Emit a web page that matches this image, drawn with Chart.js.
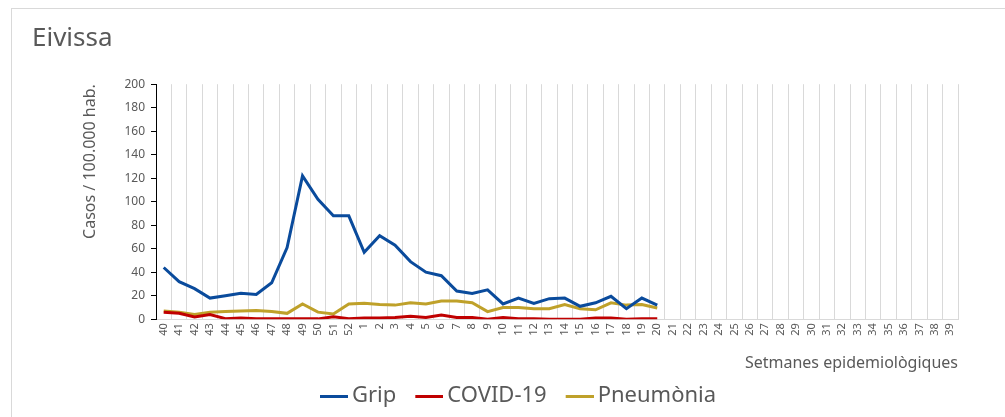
<!DOCTYPE html>
<html>
<head>
<meta charset="utf-8">
<script src="https://cdn.jsdelivr.net/npm/chart.js@4"></script>
<style>
  html, body { margin: 0; padding: 0; background: #fff; overflow: hidden; }
  #box { position: absolute; left: 11px; top: 8px; width: 995px; height: 420px; border: 1px solid #d9d9d9; }
</style>
</head>
<body>
<div id="box"><canvas id="chart" width="981" height="408"></canvas></div>
<script>
// Setmanes epidemiològiques (40 -> 52, 1 -> 39)
const weeks = ['40','41','42','43','44','45','46','47','48','49','50','51','52',
  '1','2','3','4','5','6','7','8','9','10','11','12','13','14','15','16','17','18','19','20',
  '21','22','23','24','25','26','27','28','29','30','31','32','33','34','35','36','37','38','39'];

// Casos / 100.000 hab. (weeks 40..20, rest not yet reported)
const grip = [44, 32, 26, 18, 20, 22, 21, 31, 61, 122, 102, 88, 88,
  57, 71, 63, 49, 40, 37, 24, 22, 25, 13, 18, 13.5, 17.5, 18, 11, 14, 19.5, 9, 18, 12];
const covid = [6, 5, 2, 4, 0.5, 1, 0.5, 0.3, 0.3, 0.5, 0.3, 2, 0.5,
  1, 1, 1.5, 2.5, 1.5, 3.5, 1.5, 1.5, 0, 1.5, 0.5, 0.5, 0, 0, 0, 1, 1, 0, 0.5, 0.5];
const pneumonia = [7, 6, 4, 6, 6.5, 7, 7.5, 6.5, 5, 13, 6, 4.5, 13,
  13.5, 12.5, 12, 14, 13, 15.5, 15.5, 14, 6.5, 10, 10, 9, 9, 12.5, 9, 8, 14, 12, 12.5, 9.5];

const yTicks = [0, 20, 40, 60, 80, 100, 120, 140, 160, 180, 200];

const grey = '#595959';
const font = '"Noto Sans", sans-serif';

// legend marker: short line, drawn in the right part of a wider image
// so that it sits close to its label
function legendLine(color) {
  const c = document.createElement('canvas');
  c.width = 46;
  c.height = 3;
  const g = c.getContext('2d');
  g.fillStyle = color;
  g.fillRect(18, 0, 28, 3);
  return c;
}

function series(label, data, color) {
  return {
    label: label,
    data: data,
    borderColor: color,
    backgroundColor: color,
    borderWidth: 3,
    pointRadius: 0,
    tension: 0,
    spanGaps: false
  };
}

new Chart(document.getElementById('chart').getContext('2d'), {
  type: 'line',
  data: {
    labels: weeks,
    datasets: [
      series('Grip', grip, '#0a4b9c'),
      series('COVID-19', covid, '#c00000'),
      series('Pneumònia', pneumonia, '#bfa12a')
    ]
  },
  options: {
    responsive: false,
    animation: false,
    layout: { padding: { left: 20, right: 0, top: 0, bottom: 0 } },
    plugins: {
      title: {
        display: true,
        text: 'Eivissa',
        align: 'start',
        color: grey,
        font: { family: font, size: 26, weight: 'normal' },
        padding: { top: 14, bottom: 30 }
      },
      legend: {
        position: 'bottom',
        labels: {
          color: grey,
          font: { family: font, size: 22 },
          usePointStyle: true,
          pointStyleWidth: 32,
          boxHeight: 22,
          padding: 8,
          generateLabels: (chart) => {
            const items = Chart.defaults.plugins.legend.labels.generateLabels(chart);
            items.forEach((it, i) => {
              it.pointStyle = legendLine(chart.data.datasets[i].borderColor);
            });
            return items;
          }
        }
      },
      tooltip: { enabled: false }
    },
    scales: {
      x: {
        offset: true,
        grid: { color: '#d9d9d9', offset: true, drawTicks: false },
        border: { color: '#d9d9d9' },
        ticks: {
          color: grey,
          font: { family: font, size: 11 },
          minRotation: 90,
          maxRotation: 90,
          autoSkip: false,
          padding: 4
        },
        title: {
          display: true,
          text: 'Setmanes epidemiològiques',
          align: 'end',
          color: grey,
          font: { family: font, size: 16 },
          padding: { top: 14, bottom: 4 }
        }
      },
      y: {
        min: 0,
        max: 200,
        afterBuildTicks: (scale) => { scale.ticks = yTicks.map(v => ({ value: v })); },
        afterFit: (scale) => { scale.width = 124; },
        grid: { drawOnChartArea: false, drawTicks: true, tickLength: 5, color: '#000' },
        border: { color: '#000' },
        ticks: { color: grey, font: { family: font, size: 12 }, padding: 6 },
        title: {
          display: true,
          text: 'Casos / 100.000 hab.',
          align: 'end',
          color: grey,
          font: { family: font, size: 16 },
          padding: { top: 49, bottom: 0 }
        }
      },
      yRight: {
        position: 'right',
        display: true,
        min: 0,
        max: 200,
        afterFit: (scale) => { scale.width = 35; },
        grid: { display: false },
        border: { display: false },
        ticks: { display: false }
      }
    }
  }
});
</script>
</body>
</html>
